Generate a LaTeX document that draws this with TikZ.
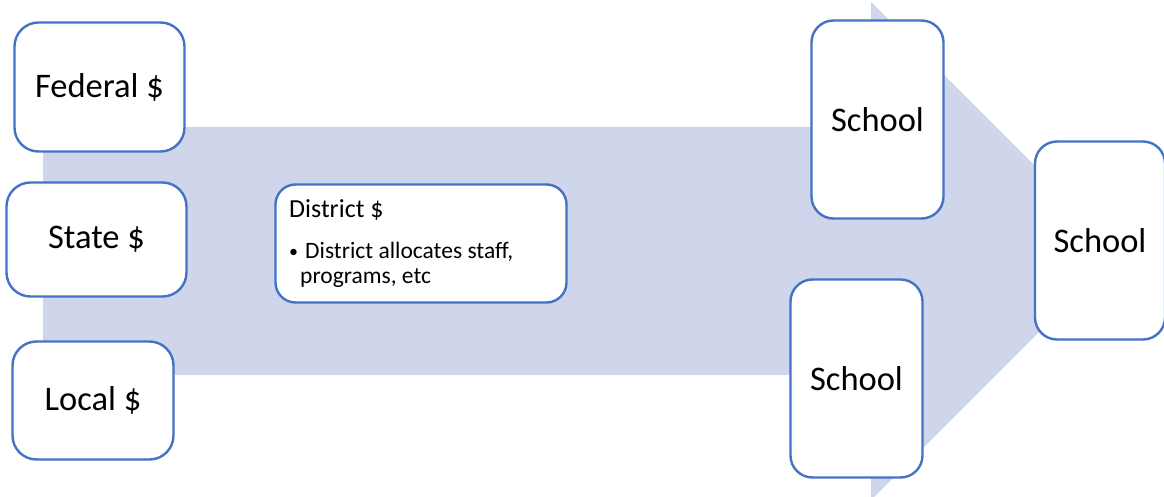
\documentclass[tikz,border=0pt]{standalone}
\usepackage{fontspec}
\setmainfont{Carlito}
\definecolor{arrowfill}{HTML}{CFD5EA}
\definecolor{boxline}{HTML}{4472C4}
\tikzset{
  box/.style={draw=boxline, line width=2.4pt, fill=white, rounded corners=24pt, inner sep=0pt,
    font=\fontsize{34.5}{40}\selectfont},
  smalltxt/.style={inner sep=0pt, anchor=base west},
}
\begin{document}
\begin{tikzpicture}[x=1pt,y=-1pt]
\useasboundingbox (0,0) rectangle (1164,497);
\clip (0,0) rectangle (1164,497);
% big arrow
\fill[arrowfill] (43,127) -- (871,127) -- (871,2) -- (1120,251) -- (871,500) -- (871,375) -- (43,375) -- cycle;
% source boxes
\node[box, minimum width=170pt, minimum height=129pt] (fed) at (99.5,87) {Federal \$};
\node[box, minimum width=180pt, minimum height=114pt] (state) at (96.5,239.5) {State \$};
\node[box, minimum width=161pt, minimum height=118pt] (local) at (93,400.5) {Local \$};
% district box
\node[box, rounded corners=20pt, minimum width=291pt, minimum height=118pt] (dist) at (421,243.5) {};
\node[smalltxt, font=\fontsize{26}{30}\selectfont] (dtitle) at (289,218) {District \$};
\node[smalltxt, font=\fontsize{18}{20}\selectfont] (dbullet) at (289,257) {\textbullet};
\node[smalltxt, font=\fontsize{23.5}{27}\selectfont] (dbul) at (305,258) {District allocates staff,};
\node[smalltxt, font=\fontsize{23.5}{27}\selectfont] (dbul2) at (300,283) {programs, etc};
% schools
\node[box, rounded corners=22pt, minimum width=132pt, minimum height=198pt] (s1) at (877.5,119.5) {School};
\node[box, rounded corners=22pt, minimum width=132pt, minimum height=198pt] (s2) at (856.5,378.5) {School};
\node[box, rounded corners=22pt, minimum width=130pt, minimum height=198pt] (s3) at (1100,240.5) {School};
\end{tikzpicture}
\end{document}
